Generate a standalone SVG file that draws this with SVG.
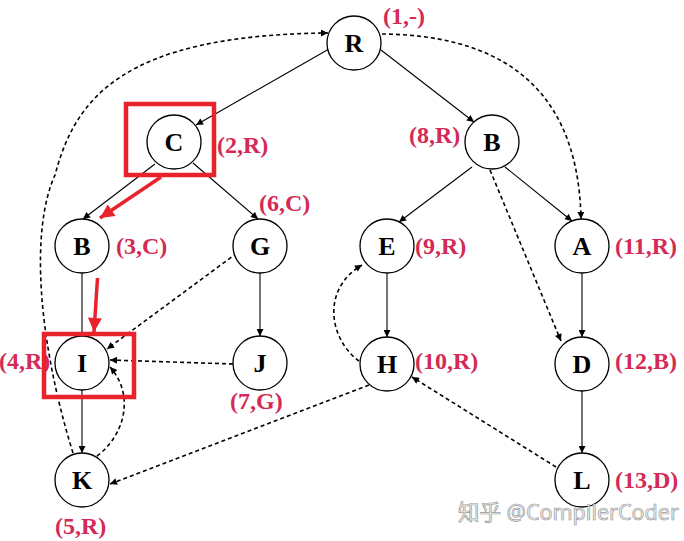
<svg xmlns="http://www.w3.org/2000/svg" width="684" height="541" viewBox="0 0 684 541">
  <style>
    .node circle { fill: #fff; stroke: #000; stroke-width: 1.3; }
    .node text { font-family: "Liberation Serif", "Times New Roman", serif; font-weight: bold; font-size: 26px; text-anchor: middle; fill: #000; }
    .lbl { font-family: "Liberation Serif", "Times New Roman", serif; font-weight: bold; font-size: 24px; fill: #d42a56; }
    .tree { fill: none; stroke: #000; stroke-width: 1.1; marker-end: url(#ah); }
    .plain { fill: none; stroke: #000; stroke-width: 1.1; }
    .back { fill: none; stroke: #000; stroke-width: 1.6; stroke-dasharray: 4 3; marker-end: url(#ah); }
    .hl { fill: none; stroke: #e8232b; stroke-width: 4.5; }
    .hla { fill: none; stroke: #e8232b; stroke-width: 3.5; marker-end: url(#rh); }
    .wm { font-family: "Noto Sans", "Noto Sans CJK SC", sans-serif; font-size: 21.5px; fill: #f2f2f2; stroke: #9a9a9a; stroke-width: 0.7; }
  </style>
  <defs>
    <marker id="ah" viewBox="0 0 10 10" refX="10" refY="5" markerWidth="8" markerHeight="7" markerUnits="userSpaceOnUse" orient="auto">
      <path d="M0,0 L10,5 L0,10 Z" fill="#000"/>
    </marker>
    <marker id="rh" viewBox="0 0 10 10" refX="10" refY="5" markerWidth="16" markerHeight="14" markerUnits="userSpaceOnUse" orient="auto">
      <path d="M0,0 L10,5 L0,10 Z" fill="#e8232b"/>
    </marker>
  </defs>

  <rect width="684" height="541" fill="#fff"/>

  <!-- edges -->
  <g id="connectors">
    <!-- tree edges -->
    <line class="tree" x1="329" y1="49" x2="196" y2="125"/>
    <line class="tree" x1="381" y1="50" x2="474" y2="122"/>
    <line class="tree" x1="155" y1="164" x2="83" y2="219"/>
    <line class="tree" x1="193" y1="163" x2="258" y2="219"/>
    <line class="plain" x1="82" y1="273" x2="82" y2="336"/>
    <line class="tree" x1="82" y1="390" x2="82" y2="453"/>
    <line class="tree" x1="260" y1="273" x2="260" y2="336"/>
    <line class="tree" x1="472" y1="167" x2="399" y2="222"/>
    <line class="tree" x1="505" y1="167" x2="572" y2="221"/>
    <line class="tree" x1="387" y1="273" x2="387" y2="337"/>
    <line class="tree" x1="582" y1="273" x2="582" y2="337"/>
    <line class="tree" x1="582" y1="391" x2="582" y2="453"/>
    <!-- non-tree edges -->
    <path class="back" d="M73,453 C38,340 30,230 55,175 C75,100 120,35 328,33"/>
    <path class="back" d="M382,34 C480,35 578,70 581,219"/>
    <line class="back" x1="490" y1="170" x2="561" y2="341"/>
    <line class="back" x1="237" y1="253" x2="107" y2="349"/>
    <line class="back" x1="233" y1="364" x2="110" y2="360"/>
    <path class="back" d="M97,456 C125,435 135,395 110,367"/>
    <line class="back" x1="369" y1="385" x2="110" y2="484"/>
    <path class="back" d="M359,361 C330,340 320,290 362,265"/>
    <line class="back" x1="556" y1="467" x2="412" y2="377"/>
  </g>

  <!-- nodes -->
  <g id="node-R" class="node"><circle cx="354" cy="43" r="27"/><text x="354" y="52">R</text></g>
  <g id="node-C" class="node"><circle cx="174" cy="142" r="27"/><text x="174" y="151">C</text></g>
  <g id="node-B1" class="node"><circle cx="82" cy="246" r="27"/><text x="82" y="255">B</text></g>
  <g id="node-G" class="node"><circle cx="260" cy="246" r="27"/><text x="260" y="255">G</text></g>
  <g id="node-I" class="node"><circle cx="82" cy="363" r="27"/><text x="82" y="372">I</text></g>
  <g id="node-J" class="node"><circle cx="260" cy="363" r="27"/><text x="260" y="372">J</text></g>
  <g id="node-K" class="node"><circle cx="82" cy="480" r="27"/><text x="82" y="489">K</text></g>
  <g id="node-B2" class="node"><circle cx="492" cy="142" r="27"/><text x="492" y="151">B</text></g>
  <g id="node-E" class="node"><circle cx="387" cy="246" r="27"/><text x="387" y="255">E</text></g>
  <g id="node-A" class="node"><circle cx="582" cy="246" r="27"/><text x="582" y="255">A</text></g>
  <g id="node-H" class="node"><circle cx="387" cy="364" r="27"/><text x="387" y="373">H</text></g>
  <g id="node-D" class="node"><circle cx="582" cy="364" r="27"/><text x="582" y="373">D</text></g>
  <g id="node-L" class="node"><circle cx="582" cy="480" r="27"/><text x="582" y="489">L</text></g>

  <!-- (dfnum, parent) labels -->
  <g id="labels">
    <text class="lbl" x="383" y="24">(1,-)</text>
    <text class="lbl" x="217" y="153">(2,R)</text>
    <text class="lbl" x="116" y="254">(3,C)</text>
    <text class="lbl" x="-1" y="369">(4,R)</text>
    <text class="lbl" x="55" y="534">(5,R)</text>
    <text class="lbl" x="259" y="211">(6,C)</text>
    <text class="lbl" x="230" y="409">(7,G)</text>
    <text class="lbl" x="409" y="143">(8,R)</text>
    <text class="lbl" x="415" y="254">(9,R)</text>
    <text class="lbl" x="415" y="369">(10,R)</text>
    <text class="lbl" x="615" y="254">(11,R)</text>
    <text class="lbl" x="615" y="369">(12,B)</text>
    <text class="lbl" x="615" y="488">(13,D)</text>
  </g>

  <!-- highlight boxes and path -->
  <g id="highlight">
    <rect class="hl" x="126" y="104" width="88" height="71"/>
    <rect class="hl" x="44" y="334" width="90" height="63"/>
    <line class="hla" x1="161" y1="177" x2="100" y2="218"/>
    <line class="hla" x1="97.5" y1="278" x2="94" y2="332"/>
  </g>

  <text class="wm" x="458" y="520">知乎 @CompilerCoder</text>
</svg>
